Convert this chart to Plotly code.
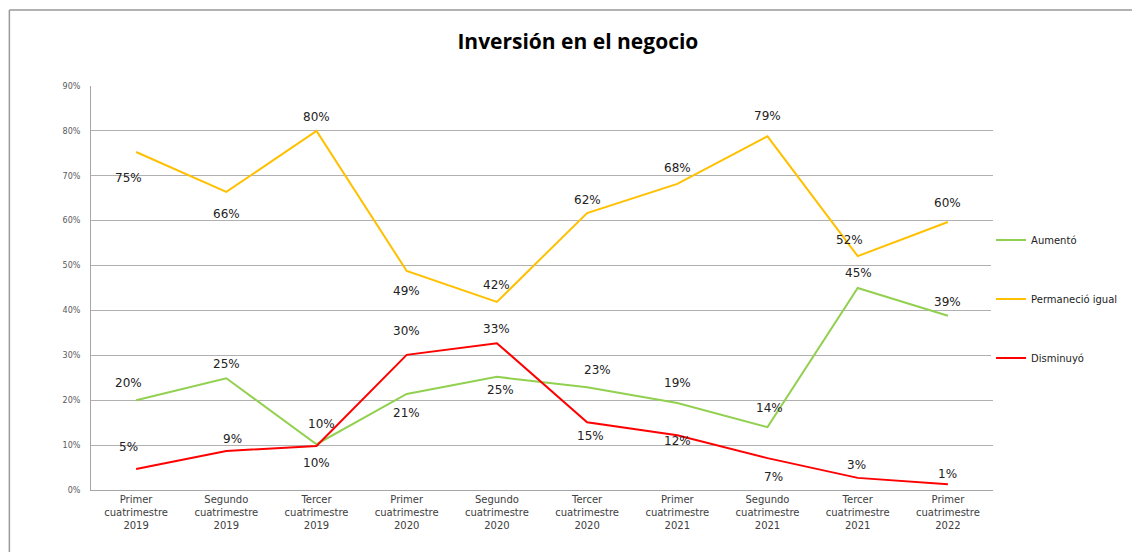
import plotly.graph_objects as go

categorias = ["Primer<br>cuatrimestre<br>2019", "Segundo<br>cuatrimestre<br>2019", "Tercer<br>cuatrimestre<br>2019",
              "Primer<br>cuatrimestre<br>2020", "Segundo<br>cuatrimestre<br>2020", "Tercer<br>cuatrimestre<br>2020",
              "Primer<br>cuatrimestre<br>2021", "Segundo<br>cuatrimestre<br>2021", "Tercer<br>cuatrimestre<br>2021",
              "Primer<br>cuatrimestre<br>2022"]

aumento = [0.200, 0.249, 0.102, 0.214, 0.252, 0.229, 0.194, 0.140, 0.450, 0.388]
permanecio = [0.753, 0.664, 0.800, 0.488, 0.419, 0.617, 0.682, 0.788, 0.521, 0.597]
disminuyo = [0.047, 0.087, 0.098, 0.301, 0.327, 0.151, 0.122, 0.071, 0.027, 0.013]

# label offsets in px (x, y) relative to each point, like the original chart
off_aum = [(-8, 17), (0, 14), (5, 20), (0, -19), (4, -13), (10, 17), (0, 20), (2, 19), (1, 15), (0, 14)]
off_per = [(-8, -26), (0, -22), (0, 14), (0, -20), (0, 17), (0, 13), (0, 16), (0, 20), (-8, 16), (0, 19)]
off_dis = [(-8, 22), (6, 12), (0, -17), (0, 24), (0, 14), (3, -14), (0, -6), (6, -19), (-1, 13), (0, 10)]

series = [
    ("Aumentó", aumento, "#92d050", off_aum),
    ("Permaneció igual", permanecio, "#ffc000", off_per),
    ("Disminuyó", disminuyo, "#ff0000", off_dis),
]

fig = go.Figure()
anns = []
for nombre, vals, color, offs in series:
    fig.add_trace(go.Scatter(x=categorias, y=vals, mode="lines", name=nombre, legendgroup=nombre,
                             line=dict(color=color, width=2)))
    for c, v, (dx, dy) in zip(categorias, vals, offs):
        anns.append(dict(x=c, y=v, text=f"{round(v * 100)}%", showarrow=False, xshift=dx, yshift=dy,
                         font=dict(family="DejaVu Sans", size=12, color="#222222")))

# page body has an 8px margin, so size the figure to fill the window without scrollbars
fig.update_layout(
    width=1124, height=544,
    paper_bgcolor="white", plot_bgcolor="white",
    margin=dict(l=83, r=139, t=78, b=62, autoexpand=False),
    title=dict(text="<b>Inversión en el negocio</b>", x=0.507, xanchor="center", y=0.9375, yanchor="middle",
               font=dict(family="Open Sans", size=21, color="#000000")),
    annotations=anns,
    showlegend=True,
    legend=dict(xref="container", yref="container", x=0.8746, xanchor="left", y=0.465, yanchor="middle",
                tracegroupgap=40, font=dict(family="DejaVu Sans", size=10, color="#222222"), itemwidth=30),
    shapes=[
        dict(type="line", xref="paper", yref="paper", x0=-0.0905, x1=1.2, y0=1.188, y1=1.188,
             line=dict(color="#999999", width=1.5)),
        dict(type="line", xref="paper", yref="paper", x0=-0.0905, x1=-0.0905, y0=1.188, y1=-0.2,
             line=dict(color="#999999", width=1.5)),
    ],
)
fig.update_xaxes(range=[-0.5, 9.5], showgrid=False, showline=True, linecolor="#a6a6a6", linewidth=1,
                 ticks="", tickfont=dict(family="DejaVu Sans", size=10, color="#404040"))
fig.update_yaxes(range=[0, 0.9], dtick=0.1, tickformat=".0%", showgrid=True, gridcolor="#b0b0b0", gridwidth=1,
                 showline=True, linecolor="#a6a6a6", linewidth=1, zeroline=False, ticks="",
                 tickfont=dict(family="DejaVu Sans", size=8, color="#595959"), ticklabelstandoff=8)

fig.write_html("out.html")
